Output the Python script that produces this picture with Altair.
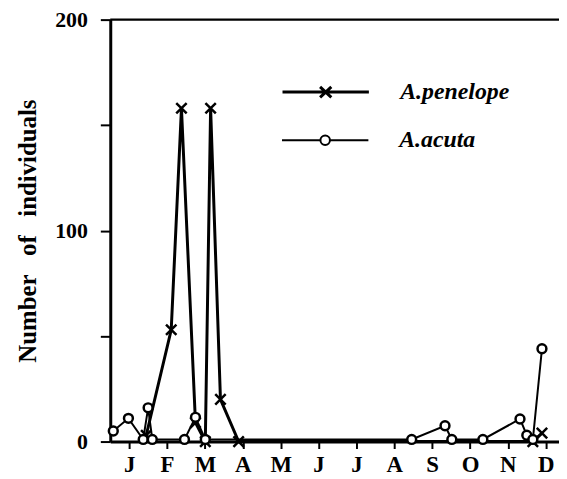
import altair as alt
import pandas as pd

# ---- data (x in months from 1 Jan, y = number of individuals) ----
months = ["J", "F", "M", "A", "M", "J", "J", "A", "S", "O", "N", "D"]

pen_name = "A.penelope"
pen_x = [0.95, 1.61, 1.88, 2.25, 2.51, 2.65, 2.91, 3.39, 11.16, 11.4]
pen_y = [3, 53, 158, 9, 0, 158, 20, 0, 0, 4]

acu_name = "A.acuta"
acu_x = [0.08, 0.48, 0.87, 1.0, 1.11, 1.96, 2.25, 2.51, 7.96, 8.84, 9.02, 9.84, 10.82, 11.0, 11.16, 11.4]
acu_y = [5, 11, 1, 16, 1, 1, 11.5, 1, 1, 7.5, 1, 1, 10.7, 3, 1, 44]

y_ticks = [0, 50, 100, 150, 200]
y_labels = [0, 100, 200]
x_ticks = [i / 2 for i in range(1, 24)]
y_title = "Number\u00a0\u00a0\u00a0of\u00a0\u00a0\u00a0individuals"

pen = pd.DataFrame({"x": pen_x, "y": pen_y, "series": pen_name})
acu = pd.DataFrame({"x": acu_x, "y": acu_y, "series": acu_name})
df = pd.concat([pen, acu], ignore_index=True)

SERIF = "Liberation Serif"
X_PATH = "M-1,-1L1,1M-1,1L1,-1"
O_PATH = "M0.85,0A0.85,0.85 0 1,1 -0.85,0A0.85,0.85 0 1,1 0.85,0"
LEG_PEN = "M-1,0L1,0M-0.13,-0.12L0.13,0.12M-0.13,0.12L0.13,-0.12"
LEG_ACU = "M-1,0L-0.11,0M0.11,0L1,0M0.11,0A0.11,0.11 0 1,1 -0.11,0A0.11,0.11 0 1,1 0.11,0"

month_arr = "[" + ",".join("'%s'" % m for m in months) + "]"
x_label_expr = f"(datum.value % 1 == 0.5) ? {month_arr}[floor(datum.value)] : ''"
y_label_expr = "indexof([" + ",".join(str(v) for v in y_labels) + "], datum.value) >= 0 ? datum.label : ''"

x_enc = alt.X(
    "x:Q",
    scale=alt.Scale(domain=[0, 11.85], nice=False, zero=False),
    axis=alt.Axis(
        values=x_ticks, labelExpr=x_label_expr, title=None, grid=False,
        tickSize=7, tickWidth=2, domainWidth=3, labelPadding=5,
        labelFont=SERIF, labelFontWeight="bold", labelFontSize=23,
        labelColor="black", domainColor="black", tickColor="black",
        labelFlush=False, labelOverlap=False,
    ),
)
y_enc = alt.Y(
    "y:Q",
    scale=alt.Scale(domain=[0, 200], nice=False),
    axis=alt.Axis(
        values=y_ticks, labelExpr=y_label_expr, grid=False,
        title=y_title,
        titleFont=SERIF, titleFontWeight="bold", titleFontSize=25, titleColor="black",
        titleX=-83, titleBaseline="middle",
        tickSize=10, tickWidth=2, domainWidth=3, labelPadding=13,
        labelFont=SERIF, labelFontWeight="bold", labelFontSize=22,
        labelColor="black", domainColor="black", tickColor="black",
        labelFlush=False,
    ),
)

base = alt.Chart(df)

lines = base.mark_line(color="black").encode(
    x=x_enc, y=y_enc,
    detail="series:N",
    strokeWidth=alt.StrokeWidth("series:N", scale=alt.Scale(domain=[pen_name, acu_name], range=[3, 2]), legend=None),
)

points = base.mark_point(stroke="black", fill="white", fillOpacity=1, opacity=1, size=110, strokeWidth=2.5).encode(
    x="x:Q", y="y:Q",
    shape=alt.Shape("series:N", scale=alt.Scale(domain=[pen_name, acu_name], range=[X_PATH, O_PATH]), legend=None),
)

top = alt.Chart(pd.DataFrame({"y": [200]})).mark_rule(color="black", strokeWidth=2.5).encode(y="y:Q")

def leg_layer(data, name, path, ly, sw):
    return alt.Chart(data).mark_point(opacity=0).encode(
        x="x:Q", y="y:Q",
        shape=alt.Shape(
            "series:N",
            scale=alt.Scale(domain=[name], range=[path]),
            legend=alt.Legend(
                title=None, orient="none", legendX=172, legendY=ly,
                symbolSize=7569, symbolStrokeWidth=sw, symbolStrokeColor="black",
                symbolFillColor="white", symbolOpacity=1, labelOffset=30,
                labelFont=SERIF, labelFontSize=24, labelFontStyle="italic",
                labelFontWeight="bold", labelColor="black", padding=0,
            ),
        ),
    )

leg1 = leg_layer(pen, pen_name, LEG_PEN, 28, 3)
leg2 = leg_layer(acu, acu_name, LEG_ACU, 77, 2)

chart = (
    alt.layer(top, lines, points, leg1, leg2)
    .resolve_scale(shape="independent", strokeWidth="independent")
    .properties(
        width=452, height=425,
        autosize=alt.AutoSizeParams(type="none"),
        padding={"left": 103, "top": 10, "right": 0, "bottom": 36},
        background="white",
    )
    .configure_view(stroke=None)
)

chart.save("out.html", embed_options={"renderer": "svg", "actions": False})
